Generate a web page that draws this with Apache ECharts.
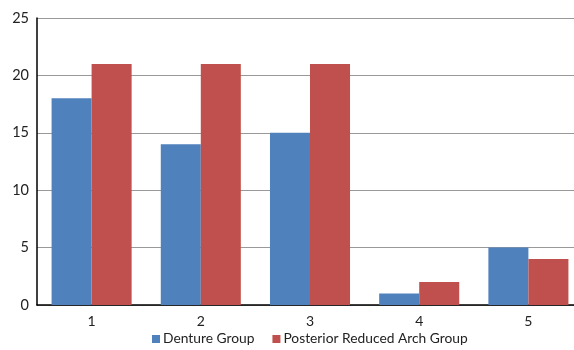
<!DOCTYPE html>
<html>
<head>
<meta charset="utf-8">
<script src="https://cdn.jsdelivr.net/npm/echarts@6/dist/echarts.min.js"></script>
<style>
  html, body { margin: 0; padding: 0; background: #fff; }
  #chart { width: 574px; height: 350px; }
</style>
</head>
<body>
<div id="chart"></div>
<script>
const categories = ['1', '2', '3', '4', '5'];
const dentureGroup = [18, 14, 15, 1, 5];
const reducedArchGroup = [21, 21, 21, 2, 4];
const yTicks = { min: 0, max: 25, interval: 5 };

const FONT = 'Lato, "Open Sans", sans-serif';
const chart = echarts.init(document.getElementById('chart'));
chart.setOption({
  animation: false,
  textStyle: { fontFamily: FONT },
  grid: { left: 37, top: 18, width: 546, bottom: 45, containLabel: false, outerBoundsMode: 'none' },
  legend: {
    top: 332,
    left: 152,
    padding: 0,
    itemWidth: 8,
    itemHeight: 8,
    itemGap: 18,
    icon: 'rect',
    textStyle: { fontSize: 13.8, color: '#222', fontFamily: FONT, padding: [0, 0, 0, -2] },
    data: ['Denture Group', 'Posterior Reduced Arch Group']
  },
  xAxis: {
    type: 'category',
    data: categories,
    axisLine: { lineStyle: { color: '#000', width: 1.5 } },
    axisTick: { show: false },
    axisLabel: { fontSize: 14, color: '#222', margin: 9, fontFamily: FONT }
  },
  yAxis: {
    type: 'value',
    min: yTicks.min,
    max: yTicks.max,
    interval: yTicks.interval,
    axisLine: { show: true, lineStyle: { color: '#000', width: 1.5 } },
    axisTick: { show: false },
    axisLabel: { fontSize: 14.5, color: '#222', margin: 8, fontFamily: FONT },
    splitLine: { lineStyle: { color: '#999', width: 1 } }
  },
  series: [
    {
      name: 'Denture Group',
      type: 'bar',
      data: dentureGroup,
      barGap: '0%',
      barCategoryGap: '26.7%',
      itemStyle: { color: '#4F81BD' }
    },
    {
      name: 'Posterior Reduced Arch Group',
      type: 'bar',
      data: reducedArchGroup,
      barGap: '0%',
      barCategoryGap: '26.7%',
      itemStyle: { color: '#C0504D' }
    }
  ]
});
</script>
</body>
</html>
